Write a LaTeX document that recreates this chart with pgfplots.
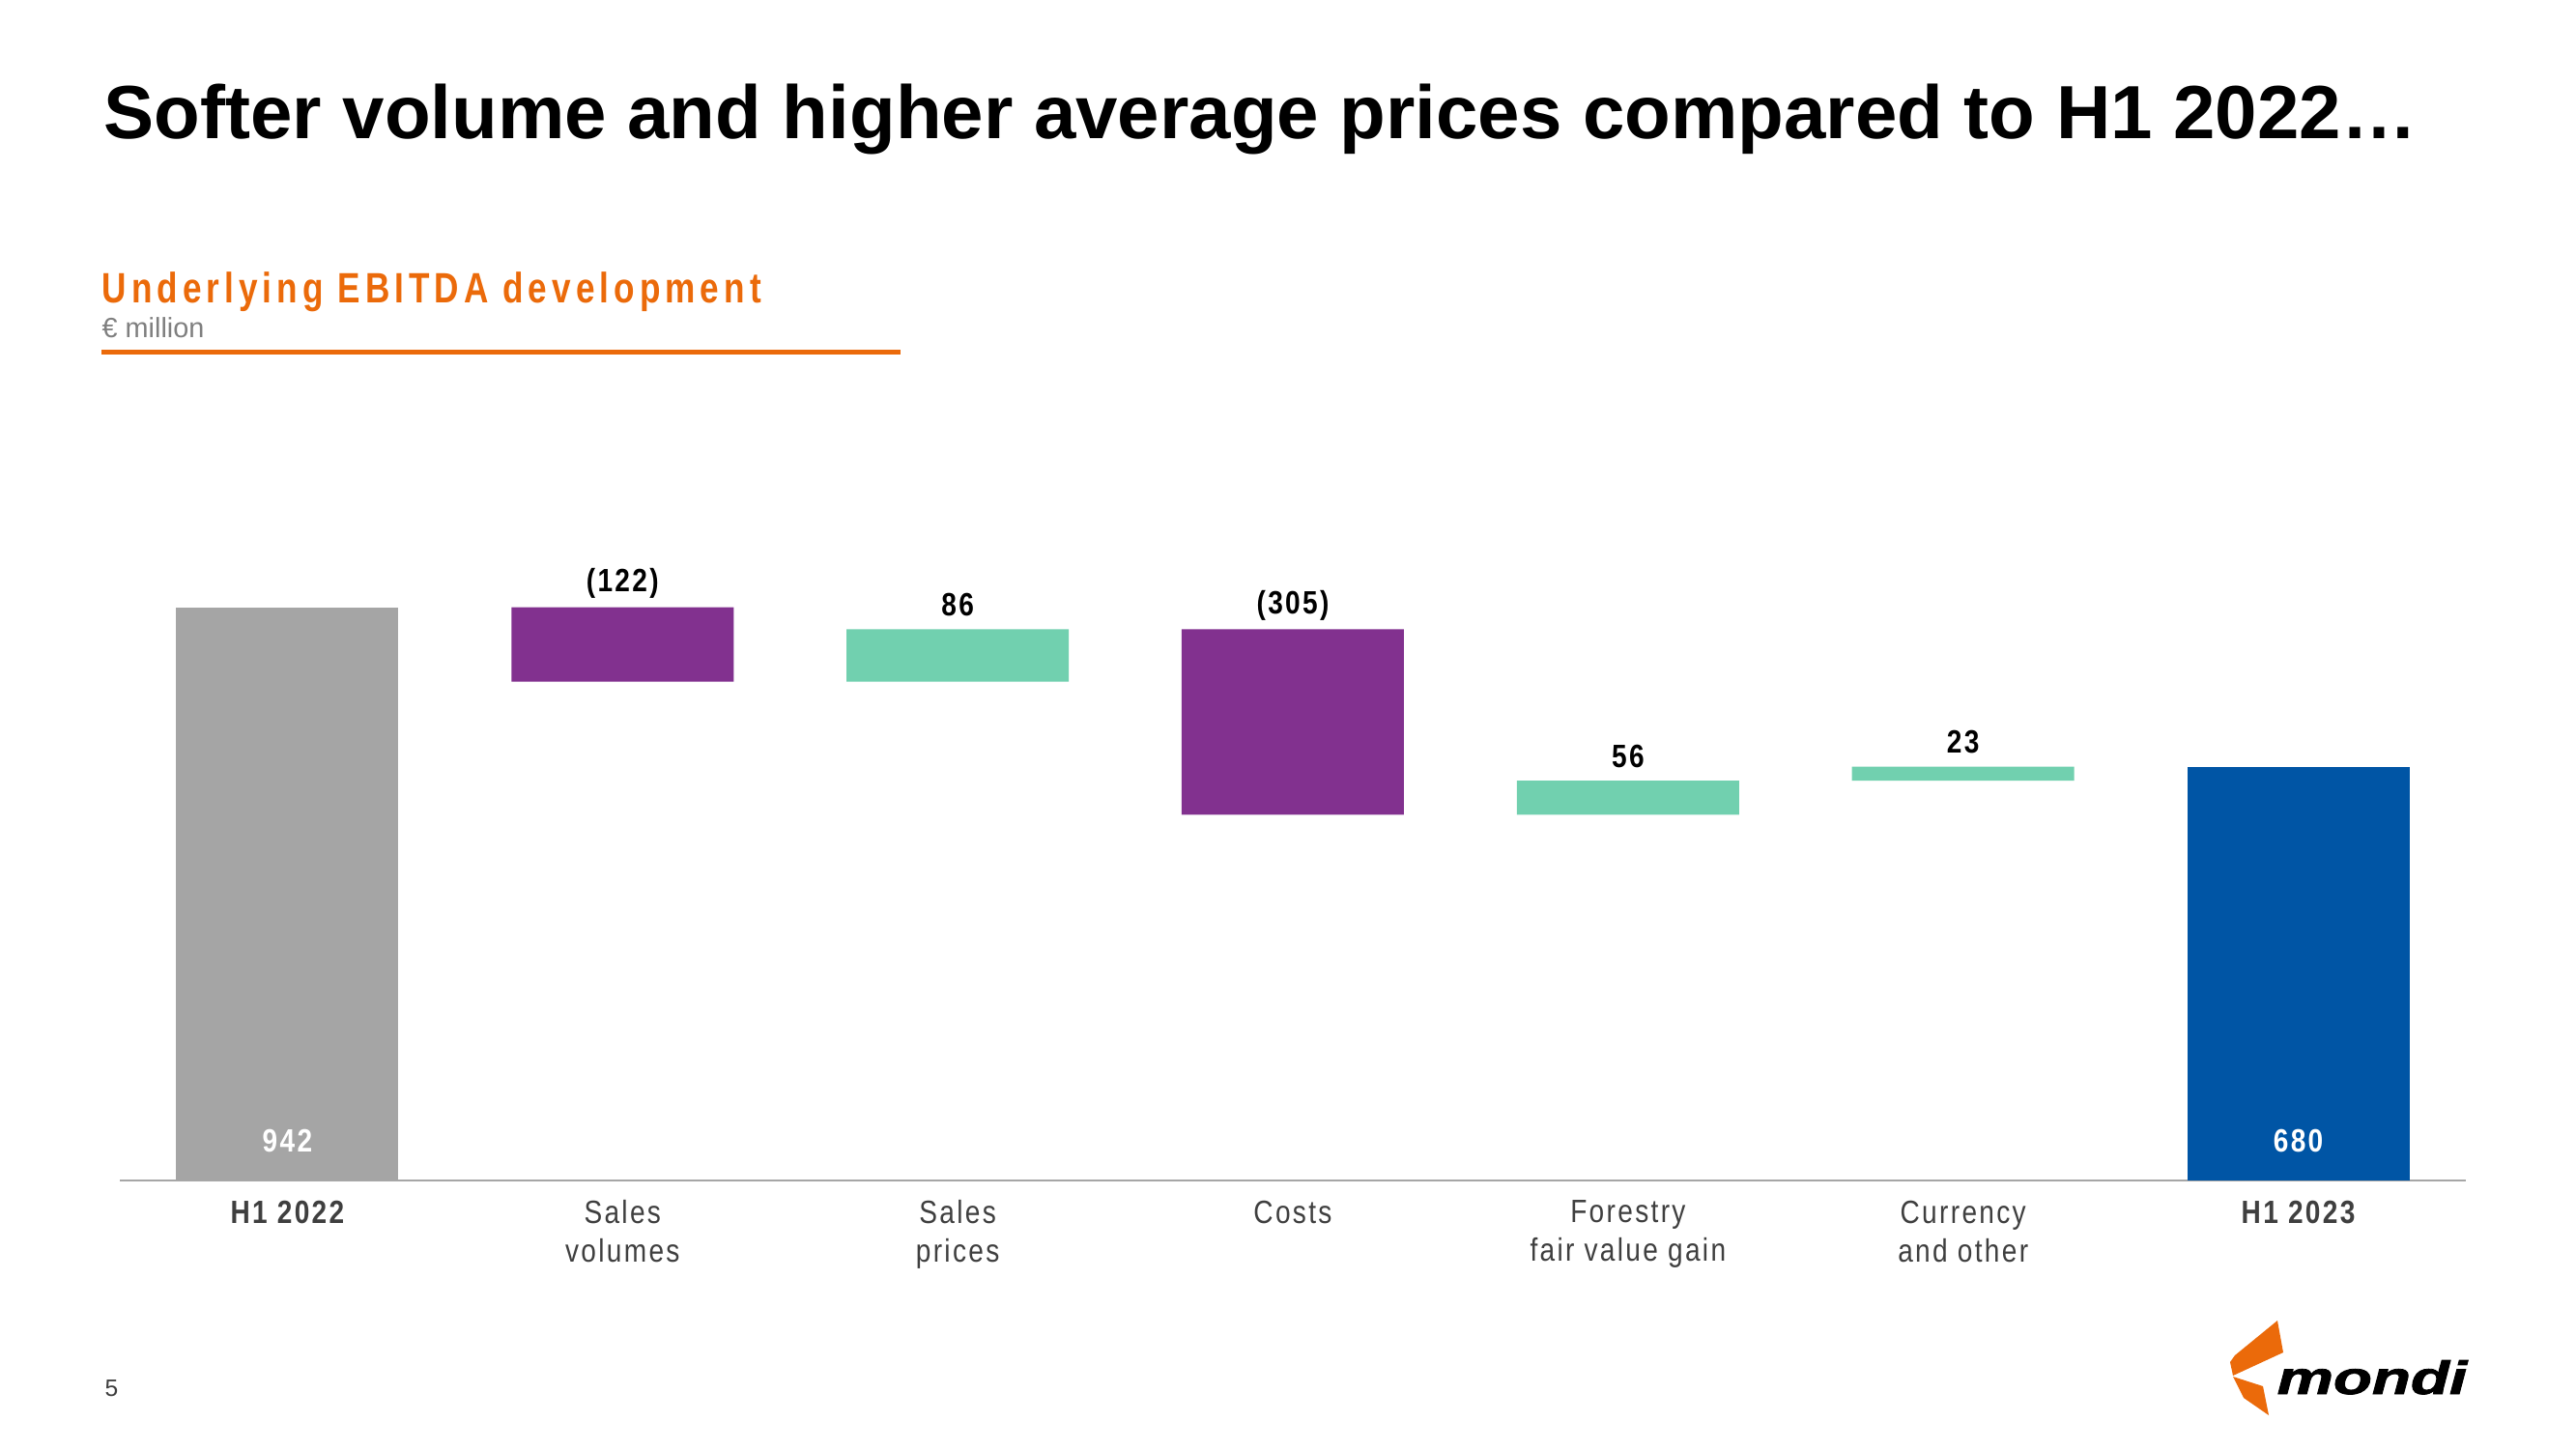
\documentclass[border=0pt]{standalone}
\usepackage{pgfplots}
\pgfplotsset{compat=1.18}
\usepackage{fontspec}
\setmainfont{Liberation Sans}
\newfontfamily\narrowfont{Liberation Sans}[FakeStretch=0.84, LetterSpace=7]
\newfontfamily\spacedfont{Liberation Sans}[FakeStretch=0.8, LetterSpace=11.5]
\newfontfamily\logofont{Liberation Sans}[BoldItalicFeatures={FakeBold=1.6}]
\definecolor{barGray}{HTML}{A5A5A5}
\definecolor{barPurple}{HTML}{82318F}
\definecolor{barMint}{HTML}{71D0AF}
\definecolor{barBlue}{HTML}{0055A5}
\definecolor{mOrange}{HTML}{EB6A0A}
\definecolor{axisGray}{HTML}{A6A6A6}
\definecolor{labGray}{HTML}{3F3F3F}
\definecolor{subGray}{HTML}{7F7F7F}
\tikzset{vlab/.style={anchor=base, inner sep=0pt, font=\fontsize{9.5}{11.4}\selectfont\narrowfont\bfseries}}
\begin{document}
\begin{tikzpicture}
\path[use as bounding box, fill=white] (0,0) rectangle (266.6mm,-150mm);
% title
\node[anchor=base west, inner sep=0pt, font=\fontsize{22.2}{26}\selectfont\bfseries] at (10.7mm,-14.3mm) {Softer volume and higher average prices compared to H1 2022…};
\node[anchor=base west, inner sep=0pt, font=\fontsize{12.5}{15}\selectfont\spacedfont\bfseries, text=mOrange] at (10.5mm,-31.3mm) {Underlying EBITDA development};
\node[anchor=base west, inner sep=0pt, font=\fontsize{8.2}{10}\selectfont, text=subGray] at (10.5mm,-34.9mm) {€ million};
\draw[mOrange, line width=0.5mm] (10.5mm,-36.4mm) -- (93.2mm,-36.4mm);
% page number
\node[anchor=base west, inner sep=0pt, font=\fontsize{7}{8}\selectfont, text=labGray] at (10.8mm,-144.5mm) {5};
% logo
\fill[mOrange] (235.7mm,-136.7mm) -- (236.3mm,-140.0mm) -- (231.1mm,-142.4mm) -- (230.8mm,-141.0mm) -- (231.3mm,-140.3mm) -- cycle;
\fill[mOrange] (231.1mm,-142.5mm) -- (234.2mm,-143.5mm) -- (234.8mm,-146.5mm) -- (232.2mm,-144.7mm) -- cycle;
\node[anchor=base west, inner sep=0pt, font=\fontsize{13.7}{15}\selectfont\logofont\bfseries\itshape] at (235.6mm,-144.3mm) {\scalebox{1.36}[1]{mondi}};

\begin{axis}[
  at={(12.4mm,-122.2mm)}, anchor=south west,
  scale only axis, width=242.8mm, height=62.99mm,
  xmin=-0.5, xmax=6.5, ymin=0, ymax=1000,
  axis x line=bottom, axis y line=none,
  x axis line style={draw=axisGray, line width=0.25mm, -},
  xtick={0,1,2,3,4,5,6},
  xticklabels={{\bfseries H1 2022},{Sales\\volumes},{Sales\\prices},{Costs},{Forestry\\fair value gain},{Currency\\and other},{\bfseries H1 2023}},
  major tick length=0pt,
  xticklabel style={font=\fontsize{9.5}{11.4}\selectfont\narrowfont, text=labGray, align=center, anchor=north, inner sep=0pt, yshift=-2.0mm},
  ybar stacked, bar width=23mm,
  clip=false,
]
\addplot[draw=none, fill=none] coordinates {(0,0) (1,820) (2,820) (3,601) (4,601) (5,657) (6,0)};
\addplot[draw=none, fill=barGray] coordinates {(0,942) (1,0) (2,0) (3,0) (4,0) (5,0) (6,0)};
\addplot[draw=none, fill=barPurple] coordinates {(0,0) (1,122) (2,0) (3,305) (4,0) (5,0) (6,0)};
\addplot[draw=none, fill=barMint] coordinates {(0,0) (1,0) (2,86) (3,0) (4,56) (5,23) (6,0)};
\addplot[draw=none, fill=barBlue] coordinates {(0,0) (1,0) (2,0) (3,0) (4,0) (5,0) (6,680)};
\node[vlab, yshift=1.6mm] at (axis cs:1,942) {(122)};
\node[vlab, yshift=1.4mm] at (axis cs:2,906) {86};
\node[vlab, yshift=1.6mm] at (axis cs:3,906) {(305)};
\node[vlab, yshift=1.4mm] at (axis cs:4,657) {56};
\node[vlab, yshift=1.4mm] at (axis cs:5,680) {23};
\coordinate (base0) at (axis cs:0,0);
\coordinate (base6) at (axis cs:6,0);
\end{axis}
\node[vlab, text=white, yshift=3.0mm] at (base0) {942};
\node[vlab, text=white, yshift=3.0mm] at (base6) {680};
\end{tikzpicture}
\end{document}
